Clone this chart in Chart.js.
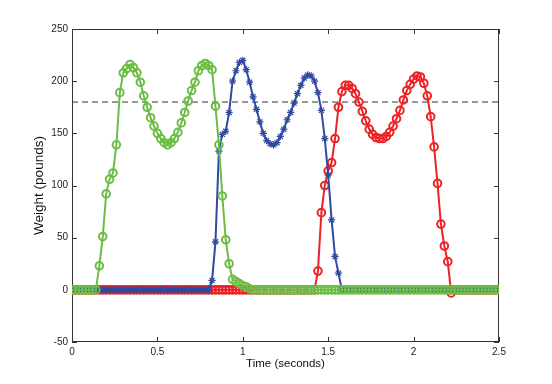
<!DOCTYPE html>
<html>
<head>
<meta charset="utf-8">
<script src="https://cdn.jsdelivr.net/npm/chart.js@4/dist/chart.umd.min.js"></script>
<style>
  html, body { margin: 0; padding: 0; background: #fff; }
  #wrap { width: 552px; height: 384px; }
</style>
</head>
<body>
<div id="wrap"><canvas id="chart" width="552" height="384"></canvas></div>
<script>
// sample times (seconds)
const time = [
  0, 0.02, 0.04, 0.06, 0.08, 0.1, 0.12, 0.14, 0.16, 0.18,
  0.2, 0.22, 0.24, 0.26, 0.28, 0.3, 0.32, 0.34, 0.36, 0.38,
  0.4, 0.42, 0.44, 0.46, 0.48, 0.5, 0.52, 0.54, 0.56, 0.58,
  0.6, 0.62, 0.64, 0.66, 0.68, 0.7, 0.72, 0.74, 0.76, 0.78,
  0.8, 0.82, 0.84, 0.86, 0.88, 0.9, 0.92, 0.94, 0.96, 0.98,
  1, 1.02, 1.04, 1.06, 1.08, 1.1, 1.12, 1.14, 1.16, 1.18,
  1.2, 1.22, 1.24, 1.26, 1.28, 1.3, 1.32, 1.34, 1.36, 1.38,
  1.4, 1.42, 1.44, 1.46, 1.48, 1.5, 1.52, 1.54, 1.56, 1.58,
  1.6, 1.62, 1.64, 1.66, 1.68, 1.7, 1.72, 1.74, 1.76, 1.78,
  1.8, 1.82, 1.84, 1.86, 1.88, 1.9, 1.92, 1.94, 1.96, 1.98,
  2, 2.02, 2.04, 2.06, 2.08, 2.1, 2.12, 2.14, 2.16, 2.18,
  2.2, 2.22, 2.24, 2.26, 2.28, 2.3, 2.32, 2.34, 2.36, 2.38,
  2.4, 2.42, 2.44, 2.46, 2.48, 2.5
]

// weight (pounds)
const greenWeight = [
  0, 0, 0, 0, 0, 0, 0, 0, 23, 51,
  92, 106, 112, 139, 189, 208, 212, 216, 213, 208,
  199, 186, 175, 165, 157, 150, 145, 141, 139, 141,
  145, 151, 160, 170, 181, 191, 199, 210, 215, 217,
  215, 211, 176, 139, 90, 48, 25, 10, 8, 6,
  4, 3, 1, 0, 0, 0, 0, 0, 0, 0,
  0, 0, 0, 0, 0, 0, 0, 0, 0, 0,
  0, 0, 0, 0, 0, 0, 0, 0, 0, 0,
  0, 0, 0, 0, 0, 0, 0, 0, 0, 0,
  0, 0, 0, 0, 0, 0, 0, 0, 0, 0,
  0, 0, 0, 0, 0, 0, 0, 0, 0, 0,
  0, 0, 0, 0, 0, 0, 0, 0, 0, 0,
  0, 0, 0, 0, 0, 0
]

const blueWeight = [
  0, 0, 0, 0, 0, 0, 0, 0, 0, 0,
  0, 0, 0, 0, 0, 0, 0, 0, 0, 0,
  0, 0, 0, 0, 0, 0, 0, 0, 0, 0,
  0, 0, 0, 0, 0, 0, 0, 0, 0, 0,
  0, 9, 46, 133, 149, 152, 170, 200, 210, 218,
  220, 211, 199, 185, 173, 161, 150, 143, 140, 139,
  141, 147, 154, 163, 170, 179, 188, 196, 203, 206,
  205, 200, 189, 172, 145, 110, 67, 32, 16, 0,
  0, 0, 0, 0, 0, 0, 0, 0, 0, 0,
  0, 0, 0, 0, 0, 0, 0, 0, 0, 0,
  0, 0, 0, 0, 0, 0, 0, 0, 0, 0,
  0, 0, 0, 0, 0, 0, 0, 0, 0, 0,
  0, 0, 0, 0, 0, 0
]

const redWeight = [
  0, 0, 0, 0, 0, 0, 0, 0, 0, 0,
  0, 0, 0, 0, 0, 0, 0, 0, 0, 0,
  0, 0, 0, 0, 0, 0, 0, 0, 0, 0,
  0, 0, 0, 0, 0, 0, 0, 0, 0, 0,
  0, 0, 0, 0, 0, 0, 0, 0, 0, 0,
  0, 0, 0, 0, 0, 0, 0, 0, 0, 0,
  0, 0, 0, 0, 0, 0, 0, 0, 0, 0,
  0, 0, 18, 74, 100, 114, 122, 145, 175, 190,
  196, 196, 193, 188, 180, 171, 162, 154, 149, 146,
  145, 145, 147, 151, 157, 164, 172, 182, 191, 197,
  202, 205, 204, 198, 186, 166, 137, 102, 63, 42,
  27, -3, 0, 0, 0, 0, 0, 0, 0, 0,
  0, 0, 0, 0, 0, 0
]

const threshold = 180
const xTicks = [0, 0.5, 1, 1.5, 2, 2.5]
const yTicks = [-50, 0, 50, 100, 150, 200, 250]

const toPoints = (values) => time.map((t, i) => ({ x: t, y: values[i] }))

// MATLAB style box with inward ticks
const boxFrame = {
  id: "boxFrame",
  beforeDatasetsDraw(chart) {
    const { ctx, chartArea: a, scales } = chart
    ctx.save()
    ctx.strokeStyle = "#333"
    ctx.lineWidth = 1
    ctx.strokeRect(a.left + 0.5, a.top + 0.5, a.right - a.left - 1, a.bottom - a.top - 1)
    ctx.beginPath()
    xTicks.forEach((v) => {
      const px = Math.round(scales.x.getPixelForValue(v)) + 0.5
      ctx.moveTo(px, a.bottom)
      ctx.lineTo(px, a.bottom - 5)
      ctx.moveTo(px, a.top)
      ctx.lineTo(px, a.top + 5)
    })
    yTicks.forEach((v) => {
      const py = Math.round(scales.y.getPixelForValue(v)) + 0.5
      ctx.moveTo(a.left, py)
      ctx.lineTo(a.left + 5, py)
      ctx.moveTo(a.right, py)
      ctx.lineTo(a.right - 5, py)
    })
    ctx.stroke()
    ctx.restore()
  }
}

Chart.defaults.font.family = "'Liberation Sans', Arial, Helvetica, sans-serif"
Chart.defaults.color = "#222"

const ctx = document.getElementById("chart").getContext("2d")

new Chart(ctx, {
  type: "line",
  data: {
    datasets: [
      {
        data: toPoints(greenWeight),
        order: 1,
        borderColor: "#6cbd45",
        backgroundColor: "rgba(0, 0, 0, 0)",
        borderWidth: 2,
        pointStyle: "circle",
        pointRadius: 3.8,
        pointBorderWidth: 2,
        pointBorderColor: "#6cbd45",
        pointBackgroundColor: "rgba(0, 0, 0, 0)"
      },
      {
        data: toPoints(blueWeight),
        order: 2,
        borderColor: "#2f4aa0",
        backgroundColor: "rgba(0, 0, 0, 0)",
        borderWidth: 2,
        pointStyle: "star",
        pointRadius: 3.6,
        pointBorderWidth: 1.2,
        pointBorderColor: "#2f4aa0"
      },
      {
        data: toPoints(redWeight),
        order: 3,
        borderColor: "#ec2226",
        backgroundColor: "rgba(0, 0, 0, 0)",
        borderWidth: 2,
        pointStyle: "circle",
        pointRadius: 3.8,
        pointBorderWidth: 2,
        pointBorderColor: "#ec2226",
        pointBackgroundColor: "rgba(0, 0, 0, 0)"
      },
      {
        data: [
          { x: xTicks[0], y: threshold },
          { x: xTicks[xTicks.length - 1], y: threshold }
        ],
        order: 4,
        borderColor: "#333",
        borderWidth: 1,
        borderDash: [6, 4],
        pointRadius: 0
      }
    ]
  },
  options: {
    responsive: false,
    animation: false,
    events: [],
    layout: { padding: { top: 29, right: 53, left: 0, bottom: 0 } },
    plugins: {
      legend: { display: false },
      tooltip: { enabled: false }
    },
    scales: {
      x: {
        type: "linear",
        min: 0,
        max: 2.5,
        grid: { display: false, drawTicks: false },
        border: { display: false },
        afterBuildTicks: (scale) => {
          scale.ticks = xTicks.map((value) => ({ value }))
        },
        afterFit: (scale) => {
          scale.height = 42
        },
        ticks: {
          padding: 4,
          font: { size: 10 },
          color: "#222",
          callback: (value) => String(value)
        },
        title: {
          display: true,
          text: "Time (seconds)",
          font: { size: 11.5 },
          color: "#111",
          padding: { bottom: 13 }
        }
      },
      y: {
        type: "linear",
        min: -50,
        max: 250,
        grid: { display: false, drawTicks: false },
        border: { display: false },
        afterBuildTicks: (scale) => {
          scale.ticks = yTicks.map((value) => ({ value }))
        },
        afterFit: (scale) => {
          scale.width = 72
        },
        ticks: {
          padding: 4,
          font: { size: 10 },
          color: "#222",
          callback: (value) => String(value)
        },
        title: {
          display: true,
          text: "Weight (pounds)",
          font: { size: 13.5 },
          color: "#111",
          padding: { top: 31 }
        }
      }
    }
  },
  plugins: [boxFrame]
})
</script>
</body>
</html>
